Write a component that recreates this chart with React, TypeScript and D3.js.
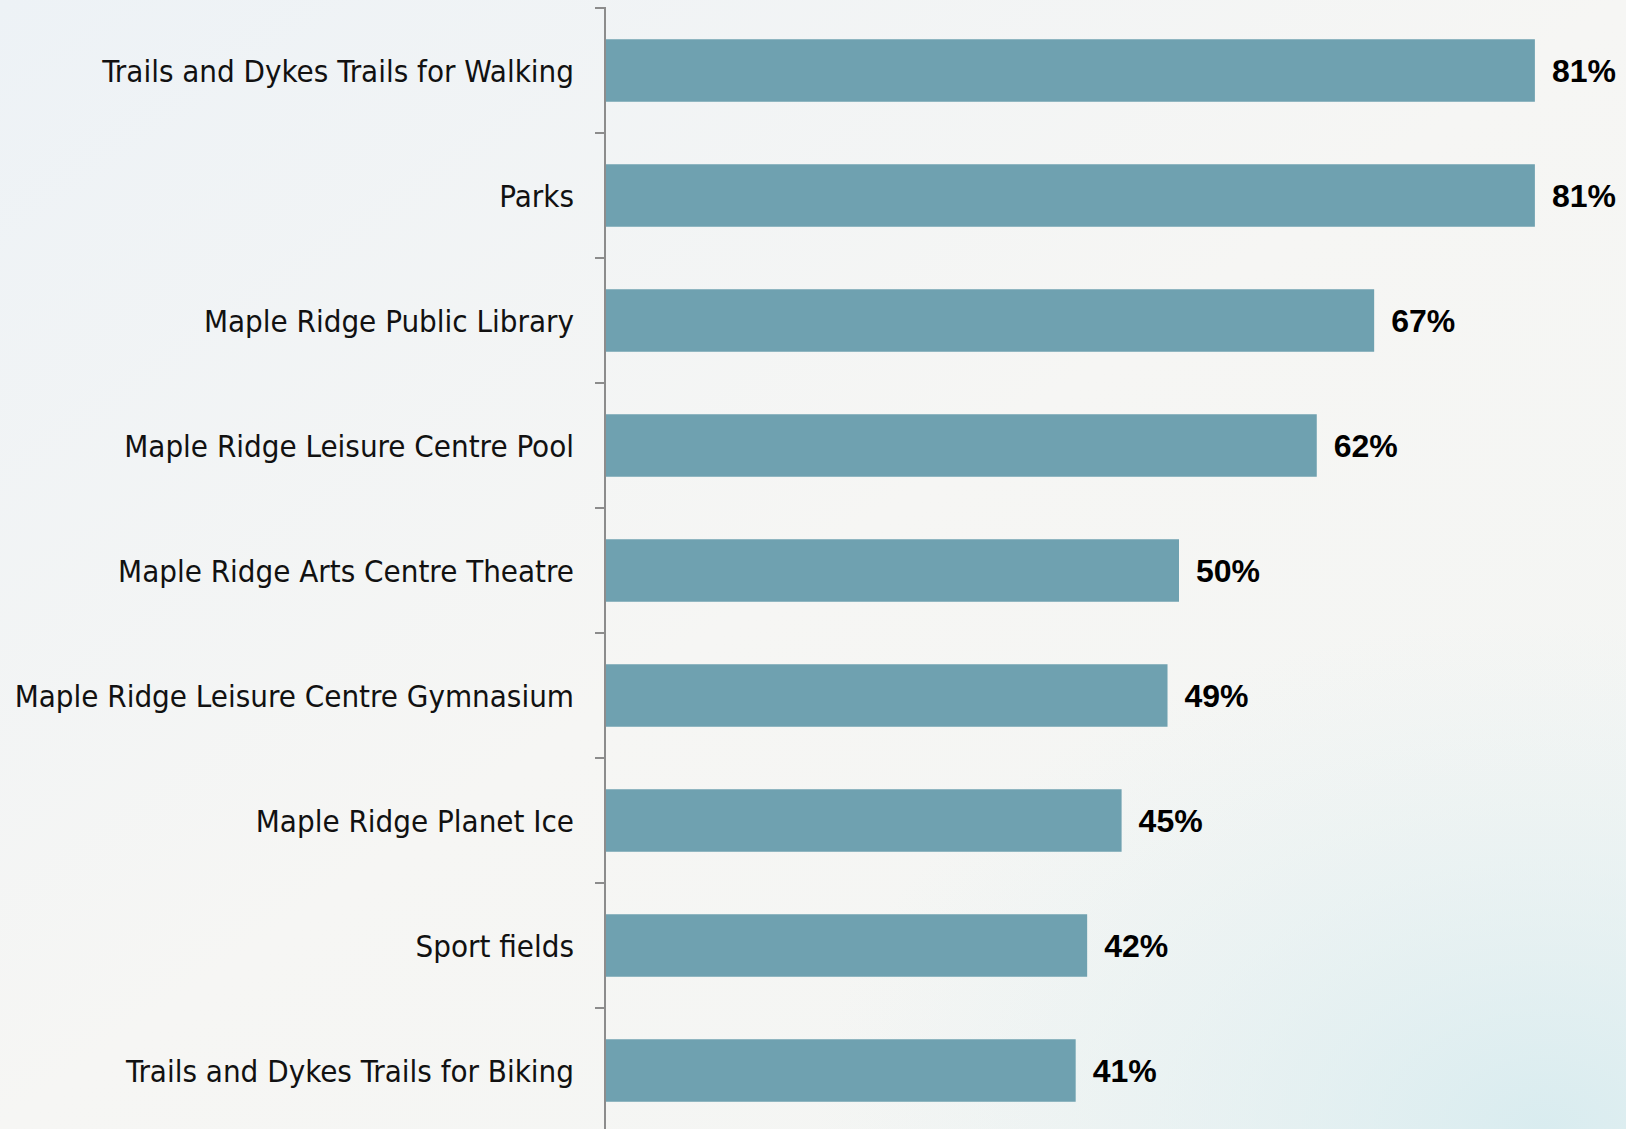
import React from "react";
import * as d3 from "d3";

const categories = [
  "Trails and Dykes Trails for Walking",
  "Parks",
  "Maple Ridge Public Library",
  "Maple Ridge Leisure Centre Pool",
  "Maple Ridge Arts Centre Theatre",
  "Maple Ridge Leisure Centre Gymnasium",
  "Maple Ridge Planet Ice",
  "Sport fields",
  "Trails and Dykes Trails for Biking",
];
const values = [81, 81, 67, 62, 50, 49, 45, 42, 41];
const valueLabels = ["81%", "81%", "67%", "62%", "50%", "49%", "45%", "42%", "41%"];

const W = 1626;
const H = 1129;
const axisX = 605;

export default function App() {
  const x = d3.scaleLinear().domain([0, 100]).range([axisX, axisX + 1148]);
  const y = d3.scaleBand<string>().domain(categories).range([8, 8 + 125 * categories.length]).paddingInner(0.5).paddingOuter(0.25);
  const step = y.step();
  const tickYs = categories.map((c, i) => 8 + i * step);
  return (
    <svg width={W} height={H} style={{ position: "absolute", left: 0, top: 0, display: "block" }}>
      <defs>
        <linearGradient id="bg" x1="0" y1="0" x2="1" y2="1">
          <stop offset="0" stopColor="#edf2f6" />
          <stop offset="0.5" stopColor="#f6f6f4" />
          <stop offset="1" stopColor="#f3f5f3" />
        </linearGradient>
        <radialGradient id="tint" cx="0.95" cy="1" r="0.45">
          <stop offset="0" stopColor="#d6ebef" stopOpacity="0.9" />
          <stop offset="1" stopColor="#e2f0f2" stopOpacity="0" />
        </radialGradient>
      </defs>
      <rect width={W} height={H} fill="url(#bg)" />
      <rect width={W} height={H} fill="url(#tint)" />
      {categories.map((c, i) => (
        <rect key={c} x={x(0)} y={y(c)} width={x(values[i]) - x(0)} height={y.bandwidth()} fill="#6fa1b0" />
      ))}
      <line x1={axisX} x2={axisX} y1={7} y2={H} stroke="#8c8c8c" strokeWidth={2} />
      {tickYs.map((t, i) => (
        <line key={i} x1={axisX - 10} x2={axisX} y1={t} y2={t} stroke="#8c8c8c" strokeWidth={2} />
      ))}
      {categories.map((c) => (
        <text key={c} x={574} y={(y(c) as number) + y.bandwidth() / 2} dy="0.36em" textAnchor="end"
          fontFamily="'DejaVu Sans Condensed', 'DejaVu Sans', sans-serif" fontSize={31} fill="#111">
          {c}
        </text>
      ))}
      {categories.map((c, i) => (
        <text key={c} x={x(values[i]) + 17} y={(y(c) as number) + y.bandwidth() / 2} dy="0.36em"
          fontFamily="'Liberation Sans', Arial, sans-serif" fontWeight="bold" fontSize={32} fill="#000">
          {valueLabels[i]}
        </text>
      ))}
    </svg>
  );
}
